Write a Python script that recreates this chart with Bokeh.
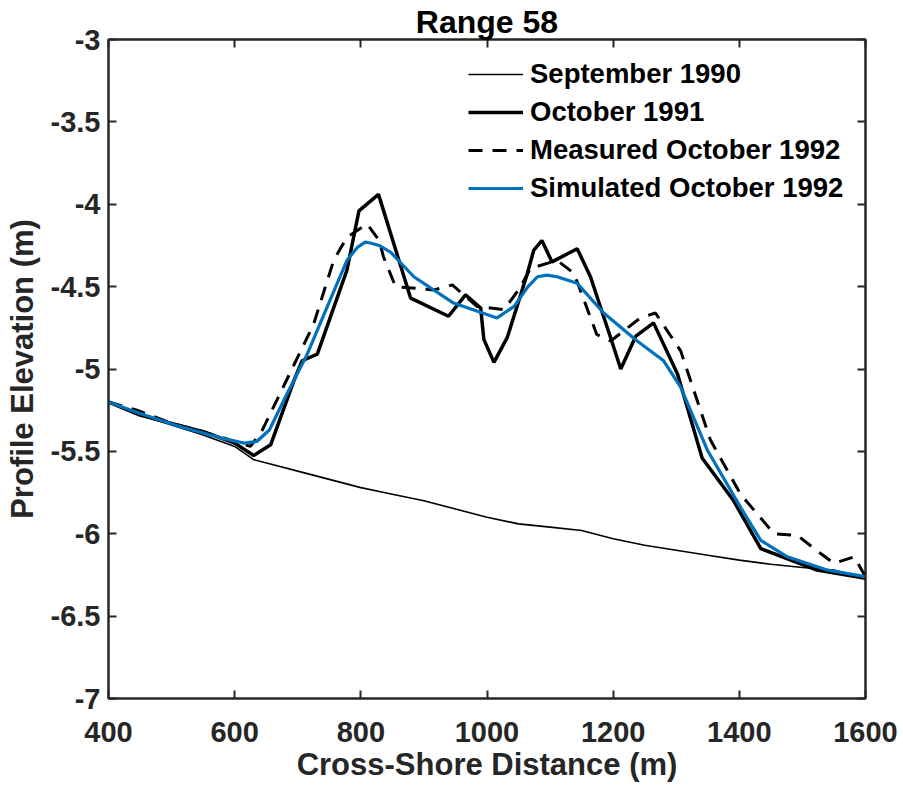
from bokeh.plotting import figure
from bokeh.models import (Legend, LegendItem, LinearAxis, FixedTicker, Range1d)
from bokeh.embed import file_html
from bokeh.resources import INLINE

# ---- data ----
sept_x = [400, 450, 500, 550, 600, 630, 700, 750, 800, 850, 900, 950, 1000, 1050, 1100,
          1150, 1200, 1250, 1300, 1350, 1400, 1450, 1500, 1550, 1600]
sept_y = [-5.20, -5.28, -5.34, -5.40, -5.47, -5.55, -5.62, -5.67, -5.72, -5.76, -5.80, -5.85,
          -5.90, -5.94, -5.96, -5.98, -6.03, -6.07, -6.10, -6.13, -6.16, -6.185, -6.205, -6.22, -6.27]

oct91_x = [400, 450, 500, 550, 600, 630, 657, 694, 707, 731, 778, 797, 828, 879, 939, 966,
           990, 995, 1011, 1032, 1064, 1074, 1087, 1103, 1143, 1164, 1196, 1212, 1236, 1264,
           1302, 1341, 1391, 1434, 1523, 1600]
oct91_y = [-5.20, -5.28, -5.33, -5.38, -5.45, -5.525, -5.46, -5.07, -4.95, -4.91, -4.40, -4.04,
           -3.94, -4.57, -4.68, -4.55, -4.63, -4.82, -4.96, -4.81, -4.42, -4.28, -4.22, -4.35,
           -4.27, -4.44, -4.81, -5.00, -4.80, -4.72, -5.03, -5.54, -5.80, -6.09, -6.22, -6.27]

meas92_x = [400, 445, 500, 550, 600, 625, 644, 725, 757, 778, 810, 829, 836, 855, 916, 945,
            984, 1027, 1050, 1069, 1111, 1138, 1174, 1196, 1243, 1267, 1307, 1354, 1402, 1455,
            1492, 1529, 1550, 1582, 1600]
meas92_y = [-5.20, -5.25, -5.33, -5.38, -5.44, -5.47, -5.37, -4.73, -4.34, -4.20, -4.12, -4.22,
            -4.32, -4.50, -4.52, -4.49, -4.62, -4.64, -4.52, -4.39, -4.34, -4.42, -4.79, -4.83,
            -4.69, -4.66, -4.89, -5.43, -5.76, -6.00, -6.01, -6.12, -6.18, -6.14, -6.26]

sim92_x = [400, 450, 514, 580, 615, 635, 655, 683, 715, 747, 778, 795, 807, 815, 829, 847,
           884, 947, 1016, 1043, 1065, 1080, 1095, 1111, 1143, 1185, 1238, 1280, 1307, 1349,
           1402, 1434, 1476, 1539, 1600]
sim92_y = [-5.20, -5.27, -5.35, -5.42, -5.45, -5.44, -5.37, -5.15, -4.91, -4.62, -4.34, -4.26,
           -4.23, -4.235, -4.25, -4.29, -4.44, -4.60, -4.69, -4.62, -4.50, -4.44, -4.43, -4.44,
           -4.48, -4.66, -4.83, -4.95, -5.11, -5.49, -5.84, -6.04, -6.14, -6.22, -6.26]

x_ticks = [400, 600, 800, 1000, 1200, 1400, 1600]
y_ticks = [-7, -6.5, -6, -5.5, -5, -4.5, -4, -3.5, -3]
y_tick_labels = ["-7", "-6.5", "-6", "-5.5", "-5", "-4.5", "-4", "-3.5", "-3"]

series_names = ["September 1990", "October 1991", "Measured October 1992", "Simulated October 1992"]
title_text = "Range 58"
x_label = "Cross-Shore Distance (m)"
y_label = "Profile Elevation (m)"

FONT = "Liberation Sans"
AX = "#262626"

p = figure(width=903, height=786, output_backend="svg", toolbar_location=None,
           x_range=Range1d(400, 1600), y_range=Range1d(-7, -3),
           min_border_left=108, min_border_right=38, min_border_top=39, min_border_bottom=88)
p.grid.visible = False
p.background_fill_color = "white"
p.border_fill_color = "white"
p.outline_line_color = AX
p.outline_line_width = 2

p.title.text = title_text
p.title.align = "center"
p.title.text_font = FONT
p.title.text_font_style = "bold"
p.title.text_font_size = "32px"
p.title.text_color = "black"
p.title.standoff = 0


def style_axis(ax, show_labels):
    ax.axis_line_color = AX
    ax.axis_line_width = 2
    ax.major_tick_line_color = AX
    ax.major_tick_line_width = 2
    ax.major_tick_in = 8
    ax.major_tick_out = 0
    ax.minor_tick_line_color = None
    ax.major_label_text_font = FONT
    ax.major_label_text_font_style = "bold"
    ax.major_label_text_color = AX
    ax.major_label_text_font_size = "29px" if show_labels else "1px"


xa = p.xaxis[0]
ya = p.yaxis[0]
xa.ticker = FixedTicker(ticks=x_ticks)
ya.ticker = FixedTicker(ticks=y_ticks)
ya.major_label_overrides = {t: l for t, l in zip(y_ticks, y_tick_labels)}
style_axis(xa, True)
style_axis(ya, True)
xa.major_label_standoff = 23
ya.major_label_standoff = 8

xa.axis_label = x_label
xa.axis_label_text_font = FONT
xa.axis_label_text_font_style = "bold"
xa.axis_label_text_font_size = "31px"
xa.axis_label_text_color = AX
xa.axis_label_standoff = 2

ya.axis_label = y_label
ya.axis_label_text_font = FONT
ya.axis_label_text_font_style = "bold"
ya.axis_label_text_font_size = "31px"
ya.axis_label_text_color = AX
ya.axis_label_standoff = 8

top_ax = LinearAxis(ticker=FixedTicker(ticks=x_ticks))
right_ax = LinearAxis(ticker=FixedTicker(ticks=y_ticks))
style_axis(top_ax, False)
style_axis(right_ax, False)
top_ax.major_label_overrides = {t: "" for t in x_ticks}
right_ax.major_label_overrides = {t: "" for t in y_ticks}
top_ax.major_label_standoff = 0
right_ax.major_label_standoff = 0
p.add_layout(top_ax, "above")
p.add_layout(right_ax, "right")

r1 = p.line(sept_x, sept_y, line_color="black", line_width=1.6)
r2 = p.line(oct91_x, oct91_y, line_color="black", line_width=3.5)
r3 = p.line(meas92_x, meas92_y, line_color="black", line_width=3, line_dash="14 10")
r4 = p.line(sim92_x, sim92_y, line_color="#0072BD", line_width=3.2)

legend = Legend(items=[LegendItem(label=n, renderers=[r]) for n, r in zip(series_names, [r1, r2, r3, r4])],
                location=(360, 494), orientation="vertical",
                glyph_width=55, glyph_height=30, label_height=30, spacing=6,
                label_standoff=7, padding=0, margin=0,
                label_text_font=FONT, label_text_font_style="bold",
                label_text_font_size="27.5px", label_text_color="black",
                border_line_alpha=0, background_fill_alpha=0)
p.add_layout(legend)

open("out.html", "w").write(file_html(p, INLINE))
